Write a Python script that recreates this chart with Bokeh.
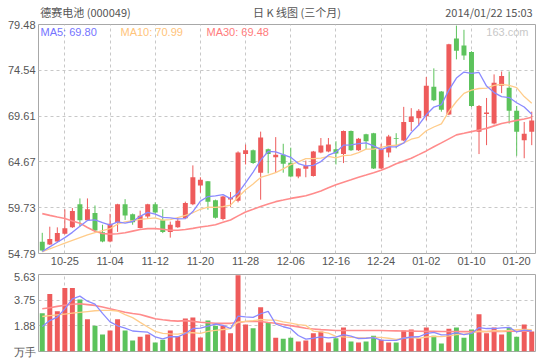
from bokeh.plotting import figure
from bokeh.models import (ColumnDataSource, Range1d, FixedTicker, Label, PrintfTickFormatter,
                          LinearAxis)
from bokeh.layouts import column
from bokeh.embed import file_html
from bokeh.resources import INLINE

dates = ["10-22", "10-23", "10-24", "10-25", "10-28", "10-29", "10-30", "10-31", "11-01",
         "11-04", "11-05", "11-06", "11-07", "11-08", "11-11", "11-12", "11-13", "11-14", "11-15",
         "11-18", "11-19", "11-20", "11-21", "11-22", "11-25", "11-26", "11-27", "11-28", "11-29",
         "12-02", "12-03", "12-04", "12-05", "12-06", "12-09", "12-10", "12-11", "12-12", "12-13",
         "12-16", "12-17", "12-18", "12-19", "12-20", "12-23", "12-24", "12-25", "12-26", "12-27",
         "12-30", "12-31", "01-02", "01-03", "01-06", "01-07", "01-08", "01-09", "01-10",
         "01-13", "01-14", "01-15", "01-16", "01-17", "01-20", "01-21", "01-22"]

open_ = [56.05, 55.77, 56.08, 56.91, 57.61, 60.10, 58.37, 59.17, 57.09, 56.08,
         58.10, 60.10, 59.03, 57.54, 58.78, 60.10, 58.37, 57.12, 57.61, 58.58,
         60.10, 62.11, 62.57, 60.52, 58.51, 60.60, 60.49, 65.51, 65.92, 63.50,
         66.03, 65.16, 65.43, 64.57, 63.08, 63.92, 63.15, 65.68, 65.79, 66.03,
         65.51, 68.00, 65.92, 67.66, 67.76, 63.95, 65.68, 67.20, 66.96, 68.97,
         69.38, 69.59, 72.78, 72.26, 69.77, 77.97, 77.21, 76.52, 67.93, 69.84,
         68.80, 72.88, 72.67, 70.18, 66.99, 67.93]
high = [57.02, 57.68, 57.61, 59.55, 59.69, 60.73, 60.73, 59.97, 57.89, 59.06,
        60.15, 60.65, 59.10, 59.41, 60.15, 60.31, 59.55, 58.23, 58.72, 60.38,
        64.29, 63.01, 62.60, 60.60, 61.00, 61.42, 65.80, 66.54, 66.00, 67.93,
        66.10, 67.34, 66.62, 66.20, 64.00, 64.81, 65.85, 67.24, 67.24, 66.89,
        68.05, 68.05, 67.25, 67.70, 67.80, 66.62, 67.58, 67.76, 70.60, 70.46,
        70.36, 73.82, 74.75, 72.30, 77.40, 79.36, 78.91, 76.60, 70.80, 71.56,
        74.10, 74.41, 74.41, 70.70, 68.97, 70.08]
low = [55.00, 55.70, 56.00, 56.85, 57.55, 57.68, 58.30, 57.10, 56.00, 56.00,
       57.12, 58.41, 57.89, 57.50, 58.51, 59.06, 56.99, 56.50, 57.55, 58.50,
       60.00, 61.35, 59.51, 58.55, 58.37, 59.82, 60.30, 64.39, 64.45, 60.59,
       63.43, 63.50, 63.50, 63.00, 62.90, 63.01, 63.08, 65.60, 65.70, 64.39,
       64.54, 65.85, 65.85, 66.03, 63.90, 63.90, 65.16, 66.13, 66.90, 68.00,
       68.55, 69.14, 71.22, 70.08, 69.70, 75.72, 75.66, 70.60, 65.51, 66.47,
       68.70, 72.08, 68.80, 65.33, 65.06, 66.47]
close = [55.12, 56.36, 56.99, 57.51, 59.38, 58.37, 59.55, 57.27, 56.08, 57.99,
         60.10, 58.89, 58.16, 58.86, 60.10, 59.20, 57.12, 57.89, 58.31, 60.24,
         63.01, 62.73, 60.38, 58.65, 60.93, 60.80, 65.68, 65.92, 64.54, 67.30,
         65.51, 65.43, 64.47, 63.08, 63.95, 64.23, 65.79, 66.44, 66.54, 65.58,
         68.00, 65.92, 67.17, 66.89, 63.95, 66.03, 67.41, 67.15, 68.97, 69.56,
         70.18, 72.88, 71.32, 70.28, 77.35, 76.65, 76.13, 70.70, 70.70, 70.00,
         73.19, 73.92, 70.18, 67.93, 67.69, 69.14]

ma5 = [55.00, 55.50, 56.00, 56.50, 57.07, 57.72, 58.36, 58.42, 58.13, 57.85,
       58.20, 58.07, 58.24, 58.80, 59.22, 59.04, 58.69, 58.63, 58.52, 58.55,
       59.31, 60.44, 60.93, 61.00, 61.14, 60.70, 61.29, 62.40, 63.57, 64.85,
       65.79, 65.74, 65.45, 65.16, 64.49, 64.23, 64.30, 64.70, 65.39, 65.72,
       66.47, 66.50, 66.64, 66.71, 66.39, 65.99, 66.29, 66.29, 66.70, 67.82,
       68.65, 69.75, 70.58, 70.84, 72.40, 73.70, 74.35, 74.22, 74.31, 72.84,
       72.14, 71.70, 71.60, 71.04, 70.58, 69.80]
ma10 = [54.95, 55.30, 55.60, 55.90, 56.20, 56.50, 56.80, 57.05, 57.25, 57.46,
        57.96, 58.21, 58.33, 58.47, 58.54, 58.62, 58.38, 58.44, 58.66, 58.89,
        59.18, 59.56, 59.78, 59.76, 59.85, 60.01, 60.86, 61.67, 62.29, 62.99,
        63.24, 63.51, 63.92, 64.37, 64.67, 65.01, 65.02, 65.07, 65.27, 65.10,
        65.35, 65.40, 65.67, 66.05, 66.05, 66.23, 66.39, 66.46, 66.71, 67.11,
        67.32, 68.02, 68.43, 68.77, 70.11, 71.18, 72.05, 72.40, 72.58, 72.62,
        72.92, 73.02, 72.91, 72.68, 71.71, 70.99]
ma30 = [59.09, 58.90, 58.72, 58.57, 58.30, 58.06, 57.60, 57.19, 56.95, 56.88,
        56.92, 57.02, 57.20, 57.37, 57.47, 57.47, 57.40, 57.30, 57.30, 57.37,
        57.50, 57.64, 57.76, 57.89, 58.15, 58.41, 58.85, 59.27, 59.55, 59.86,
        60.12, 60.38, 60.55, 60.73, 60.87, 61.01, 61.27, 61.53, 61.87, 62.21,
        62.47, 62.73, 63.01, 63.25, 63.50, 63.77, 64.10, 64.47, 64.75, 65.06,
        65.45, 65.85, 66.30, 66.72, 67.15, 67.58, 67.75, 67.93, 68.10, 68.28,
        68.55, 68.80, 68.97, 69.14, 69.30, 69.48]

volume = [2.80, 4.20, 2.95, 4.64, 4.64, 3.81, 2.36, 1.89, 1.25, 1.53,
          2.36, 1.53, 0.81, 1.08, 1.25, 0.66, 0.86, 1.53, 1.11, 2.41,
          2.48, 1.03, 2.26, 1.89, 1.89, 1.33, 5.58, 1.97, 1.70, 3.24,
          2.14, 1.01, 0.94, 1.01, 0.74, 0.81, 1.33, 1.47, 0.66, 0.96,
          1.75, 0.74, 0.66, 0.74, 1.16, 0.86, 0.66, 0.66, 1.53, 1.60,
          0.96, 1.75, 1.16, 0.59, 1.67, 1.75, 1.01, 1.60, 2.73, 1.33,
          1.75, 1.25, 1.75, 1.08, 1.97, 1.47]
vma5 = [1.82, 2.26, 2.51, 3.12, 3.85, 4.05, 3.68, 3.47, 2.79, 2.17,
        1.88, 1.71, 1.50, 1.46, 1.41, 1.07, 0.93, 1.08, 1.08, 1.31,
        1.68, 1.71, 1.86, 2.01, 1.91, 1.68, 2.59, 2.53, 2.49, 2.76,
        2.93, 2.01, 1.81, 1.67, 1.17, 0.90, 0.97, 1.07, 1.00, 1.05,
        1.23, 1.12, 0.95, 0.97, 1.01, 0.83, 0.82, 0.82, 0.97, 1.06,
        1.08, 1.30, 1.40, 1.21, 1.23, 1.38, 1.24, 1.32, 1.75, 1.68,
        1.68, 1.73, 1.76, 1.43, 1.56, 1.50]
vma10 = [2.56, 2.62, 2.68, 2.74, 2.80, 2.86, 2.92, 2.98, 3.00, 3.01,
         2.96, 2.70, 2.48, 2.13, 1.79, 1.47, 1.32, 1.29, 1.27, 1.36,
         1.37, 1.32, 1.47, 1.55, 1.61, 1.68, 2.15, 2.20, 2.25, 2.34,
         2.30, 2.30, 2.17, 2.08, 1.97, 1.91, 1.49, 1.44, 1.34, 1.11,
         1.07, 1.04, 1.01, 0.99, 1.03, 1.03, 0.97, 0.89, 0.97, 1.04,
         0.96, 1.06, 1.11, 1.09, 1.14, 1.23, 1.27, 1.36, 1.48, 1.46,
         1.53, 1.48, 1.54, 1.59, 1.62, 1.59]
vma30 = [3.12, 3.20, 3.30, 3.38, 3.45, 3.49, 3.43, 3.37, 3.25, 3.12,
         3.00, 2.87, 2.78, 2.70, 2.55, 2.39, 2.32, 2.26, 2.22, 2.26,
         2.20, 2.14, 2.10, 2.06, 2.06, 2.06, 2.12, 2.19, 2.19, 2.19,
         2.12, 2.06, 1.98, 1.89, 1.80, 1.70, 1.65, 1.60, 1.57, 1.53,
         1.53, 1.53, 1.53, 1.53, 1.53, 1.53, 1.52, 1.51, 1.50, 1.49,
         1.48, 1.47, 1.47, 1.46, 1.46, 1.45, 1.45, 1.45, 1.46, 1.46,
         1.47, 1.47, 1.48, 1.48, 1.49, 1.49]

price_ticks = [54.79, 59.73, 64.67, 69.61, 74.54, 79.48]
vol_ticks = [0, 1.88, 3.75, 5.63]
vol_unit = "万手"
date_tick_idx = [3, 9, 15, 21, 27, 33, 39, 45, 51, 57, 63]

header_texts = ["德赛电池 (000049)", "日 K 线图 (三个月)", "2014/01/22 15:03"]
header_pos = [5.74, 33.83, 59.32]
legend_texts = ["MA5: 69.80", "MA10: 70.99", "MA30: 69.48"]

RED = "#ee5b5b"
GREEN = "#5cc35c"
C_MA5 = "#8a8aff"
C_MA10 = "#ffcc8a"
C_MA30 = "#ff8c8c"
GRID = "#c8c8c8"
TXT = "#555555"
FONT = "Liberation Sans"
CJK = "Noto Sans CJK SC"

n = len(dates)
xs = list(range(n))
colors = [RED if c >= o else GREEN for o, c in zip(open_, close)]
tops = [max(o, c) for o, c in zip(open_, close)]
bots = [min(o, c) for o, c in zip(open_, close)]
tops = [t if t - b > 0.1 else b + 0.1 for t, b in zip(tops, bots)]

src = ColumnDataSource(dict(x=xs, high=high, low=low, top=tops, bottom=bots,
                            color=colors, vol=volume, ma5=ma5, ma10=ma10, ma30=ma30,
                            vma5=vma5, vma10=vma10, vma30=vma30))

xr = Range1d(-0.5, n - 0.5)
W = 540


def style_axis(ax, font=FONT, size="11px", standoff=3):
    ax.axis_line_color = None
    ax.major_tick_line_color = None
    ax.minor_tick_line_color = None
    ax.major_tick_out = 0
    ax.major_tick_in = 0
    ax.minor_tick_out = 0
    ax.major_label_text_font = font
    ax.major_label_text_font_size = size
    ax.major_label_text_color = TXT
    ax.major_label_standoff = standoff


p = figure(width=W, height=270, x_range=xr, y_range=Range1d(price_ticks[0], price_ticks[-1]),
           output_backend="svg", toolbar_location=None,
           min_border_left=38, min_border_right=5, min_border_top=16, min_border_bottom=17)
p.background_fill_color = "white"
p.border_fill_color = "white"
p.outline_line_color = "#a8a8a8"
p.outline_line_width = 1

p.segment(x0="x", y0="low", x1="x", y1="high", color="color", line_width=1, source=src)
p.vbar(x="x", width=0.66, top="top", bottom="bottom", fill_color="color", line_color=None, source=src)
p.line("x", "ma30", source=src, line_color=C_MA30, line_width=1.6)
p.line("x", "ma10", source=src, line_color=C_MA10, line_width=1.3)
p.line("x", "ma5", source=src, line_color=C_MA5, line_width=1.3)

style_axis(p.xaxis[0])
style_axis(p.yaxis[0])
p.yaxis.ticker = FixedTicker(ticks=price_ticks)
p.yaxis.formatter = PrintfTickFormatter(format="%.2f")
p.xaxis.ticker = FixedTicker(ticks=date_tick_idx)
p.xaxis.major_label_overrides = {i: dates[i] for i in date_tick_idx}

# header line, drawn as the labels of an axis above the price panel
top_axis = LinearAxis(ticker=FixedTicker(ticks=header_pos),
                      major_label_overrides={x: t for x, t in zip(header_pos, header_texts)})
style_axis(top_axis, font=CJK, size="11px", standoff=5)
p.add_layout(top_axis, "above")

p.xgrid.ticker = FixedTicker(ticks=date_tick_idx)
p.ygrid.ticker = FixedTicker(ticks=price_ticks[1:-1])
p.grid.grid_line_color = GRID
p.grid.grid_line_dash = "3 3"
p.grid.grid_line_width = 1

y_top = price_ticks[-1]


def lab(fig, text, x, y, xo, yo, align, base, color, font, size="11px"):
    fig.add_layout(Label(x=x, y=y, x_offset=xo, y_offset=yo, text=text, text_align=align,
                         text_baseline=base, text_color=color, text_font=font,
                         text_font_size=size))


lab(p, legend_texts[0], -0.5, y_top, 2, -7, "left", "middle", "#7474ff", FONT)
lab(p, legend_texts[1], -0.5, y_top, 82, -7, "left", "middle", "#ffc47a", FONT)
lab(p, legend_texts[2], -0.5, y_top, 168, -7, "left", "middle", "#ff7c7c", FONT)
lab(p, "163.com", n - 0.5, y_top, -7, -7, "right", "middle", "#c8c8c8", FONT)

v = figure(width=W, height=90, x_range=xr, y_range=Range1d(0, vol_ticks[-1]),
           output_backend="svg", toolbar_location=None, x_axis_location=None,
           min_border_left=38, min_border_right=5, min_border_top=4, min_border_bottom=9)
v.background_fill_color = "white"
v.border_fill_color = "white"
v.outline_line_color = "#a8a8a8"
v.outline_line_width = 1
v.vbar(x="x", width=0.66, top="vol", bottom=0, fill_color="color", line_color=None, source=src)
v.line("x", "vma30", source=src, line_color=C_MA30, line_width=1.6)
v.line("x", "vma10", source=src, line_color=C_MA10, line_width=1.3)
v.line("x", "vma5", source=src, line_color=C_MA5, line_width=1.3)

style_axis(v.yaxis[0])
v.yaxis.ticker = FixedTicker(ticks=vol_ticks)
v.yaxis.formatter = PrintfTickFormatter(format="%.2f")
v.yaxis.major_label_overrides = {0: vol_unit}
v.xgrid.ticker = FixedTicker(ticks=date_tick_idx)
v.ygrid.ticker = FixedTicker(ticks=vol_ticks[1:-1])
v.grid.grid_line_color = GRID
v.grid.grid_line_dash = "3 3"

layout = column(p, v, spacing=0)
open("out.html", "w").write(file_html(layout, INLINE))
